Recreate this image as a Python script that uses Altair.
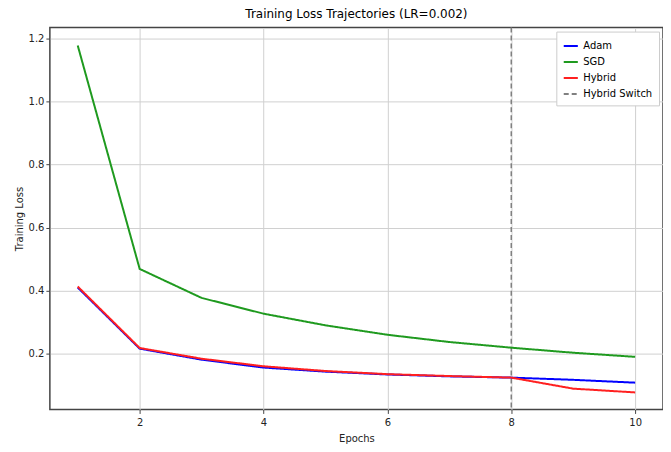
import altair as alt
import pandas as pd

epochs = [1, 2, 3, 4, 5, 6, 7, 8, 9, 10]
adam = [0.41, 0.216, 0.181, 0.156, 0.143, 0.134, 0.128, 0.124, 0.117, 0.108]
sgd = [1.178, 0.469, 0.377, 0.327, 0.290, 0.260, 0.237, 0.219, 0.203, 0.190]
hybrid = [0.413, 0.218, 0.184, 0.160, 0.145, 0.135, 0.129, 0.124, 0.089, 0.077]
switch_epoch = [8]

series = ["Adam", "SGD", "Hybrid", "Hybrid Switch"]
colors = ["#0000ff", "#1f9a1f", "#ff2020", "#808080"]
dashes = [[1, 0], [1, 0], [1, 0], [5, 3]]

rows = []
for name, vals in [("Adam", adam), ("SGD", sgd), ("Hybrid", hybrid)]:
    for e, v in zip(epochs, vals):
        rows.append({"Epoch": e, "Loss": v, "Series": name})
df = pd.DataFrame(rows)
sw = pd.DataFrame({"Epoch": switch_epoch, "Series": ["Hybrid Switch"]})

font = "DejaVu Sans"
color = alt.Color("Series:N", scale=alt.Scale(domain=series, range=colors),
                  legend=alt.Legend(title=None, orient="top-right", symbolType="stroke",
                                    strokeColor="#cccccc", fillColor="white", padding=6,
                                    labelFont=font, labelFontSize=10, symbolStrokeWidth=2,
                                    symbolSize=200, offset=4))
dash = alt.StrokeDash("Series:N", scale=alt.Scale(domain=series, range=dashes), legend=None)

x = alt.X("Epoch:Q", scale=alt.Scale(domain=[0.55, 10.45], nice=False, zero=False),
          axis=alt.Axis(values=[2, 4, 6, 8, 10], format="d", title="Epochs",
                        labelPadding=4, titlePadding=6))

lines = alt.Chart(df).mark_line(strokeWidth=2).encode(
    x=x,
    y=alt.Y("Loss:Q", scale=alt.Scale(domain=[0.023, 1.235], nice=False, zero=False),
            axis=alt.Axis(values=[0.2, 0.4, 0.6, 0.8, 1.0, 1.2], format=".1f", title="Training Loss")),
    color=color,
    strokeDash=dash,
)

rule = alt.Chart(sw).mark_rule(strokeWidth=1.5).encode(
    x=x,
    color=color,
    strokeDash=dash,
)

chart = alt.layer(rule, lines).properties(
    width=615, height=383,
    title=alt.TitleParams("Training Loss Trajectories (LR=0.002)", font=font, fontSize=12,
                          fontWeight="normal", offset=6),
    autosize=alt.AutoSizeParams(type="none"),
    padding={"left": 42, "top": 19, "right": 0, "bottom": 34},
).configure_view(stroke="#444444", strokeWidth=1.5).configure_axis(
    labelFont=font, titleFont=font, labelFontSize=10, titleFontSize=10,
    titleFontWeight="normal", gridColor="#d0d0d0", domain=False, tickColor="#444444",
    labelColor="#222222", titleColor="#222222", tickSize=4
)

chart.save("out.html", embed_options={"renderer": "svg", "actions": False})
